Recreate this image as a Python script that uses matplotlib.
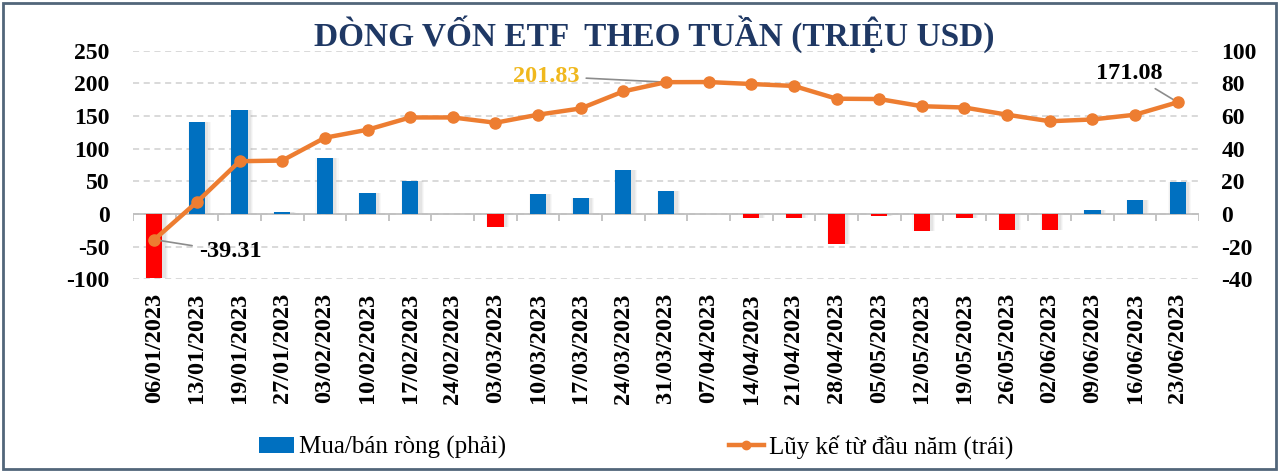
import matplotlib
matplotlib.use("Agg")
import matplotlib.pyplot as plt
import numpy as np
from matplotlib.lines import Line2D
from matplotlib.patches import Patch, Rectangle

plt.rcParams['font.family'] = ['Liberation Serif', 'DejaVu Serif']
plt.rcParams['axes.unicode_minus'] = False

categories = ["06/01/2023", "13/01/2023", "19/01/2023", "27/01/2023", "03/02/2023",
              "10/02/2023", "17/02/2023", "24/02/2023", "03/03/2023", "10/03/2023",
              "17/03/2023", "24/03/2023", "31/03/2023", "07/04/2023", "14/04/2023",
              "21/04/2023", "28/04/2023", "05/05/2023", "12/05/2023", "19/05/2023",
              "26/05/2023", "02/06/2023", "09/06/2023", "16/06/2023", "23/06/2023"]

# Weekly net flow (right axis)
net_flow = [-39.31, 56.3, 63.9, 1.2, 34.0, 12.6, 20.4, 0.1, -8.2, 12.0,
            9.8, 26.9, 14.3, 0.2, -2.7, -2.7, -18.4, -1.0, -10.2, -2.7,
            -9.6, -9.6, 2.2, 8.3, 19.4]

# Cumulative since start of year (left axis)
cumulative = [-39.31, 18.4, 80.8, 81.8, 116.7, 129.0, 147.8, 147.8, 139.7, 152.0,
              161.6, 187.7, 201.83, 202.0, 199.0, 196.0, 176.5, 176.0, 165.0, 163.0,
              152.0, 142.0, 144.7, 152.0, 171.08]

left_ticks = [-100, -50, 0, 50, 100, 150, 200, 250]
right_ticks = [-40, -20, 0, 20, 40, 60, 80, 100]

title = "DÒNG VỐN ETF  THEO TUẦN (TRIỆU USD)"
bar_label = "Mua/bán ròng (phải)"
line_label = "Lũy kế từ đầu năm (trái)"

blue = "#0070C0"
red = "#FF0000"
orange = "#ED7D31"
navy = "#1F3864"

fig = plt.figure(figsize=(12.8, 4.72), dpi=100)
fig.patch.set_facecolor("white")
ax = fig.add_axes([133/1280, 1-279.3/472, (1199-133)/1280, (279.3-50.7)/472])
ax2 = ax.twinx()

x = np.arange(len(categories))
colors = [blue if v >= 0 else red for v in net_flow]

# soft shadow behind bars
for dw, a in [(0.16, 0.05), (0.11, 0.07), (0.06, 0.09)]:
    ax.bar(x + 0.05, net_flow, width=0.38 + dw, color="#7F7F7F", alpha=a,
           zorder=1, linewidth=0)
ax.bar(x, net_flow, width=0.38, color=colors, zorder=2, linewidth=0)

ax.set_ylim(right_ticks[0], right_ticks[-1])
ax.set_yticks(right_ticks)
ax.yaxis.tick_right()
ax.set_xlim(-0.5, len(categories) - 0.5)
ax.grid(axis="y", color="#D0D0D0", linestyle=(0, (4, 3)), linewidth=1.1, zorder=0)
ax.set_axisbelow(True)
ax.axhline(0, color="#BFBFBF", linewidth=1.3, zorder=1.5)
ax.vlines(np.arange(len(categories) + 1) - 0.5, -4.3, 0, color="#BFBFBF",
          linewidth=1.3, zorder=1.5)

ax.set_xticks(x)
ax.set_xticklabels(categories, rotation=90, fontsize=17.5, fontweight="bold")
ax.tick_params(axis="x", length=0, pad=10)
ax.tick_params(axis="y", length=0, pad=16, labelsize=17)
for lbl in ax.get_yticklabels():
    lbl.set_fontweight("bold")

ax2.plot(x, cumulative, color=orange, linewidth=3.2, marker="o", markersize=8,
         markerfacecolor=orange, markeredgecolor=orange, zorder=5)
ax2.set_ylim(left_ticks[0], left_ticks[-1])
ax2.set_yticks(left_ticks)
ax2.yaxis.tick_left()
ax2.tick_params(axis="y", length=0, pad=17, labelsize=17)
for lbl in ax2.get_yticklabels():
    lbl.set_fontweight("bold")

for a in (ax, ax2):
    for s in a.spines.values():
        s.set_visible(False)

# annotations
ax2.annotate(f"{cumulative[0]:.2f}", xy=(x[0], cumulative[0]), xytext=(76, -12),
             textcoords="offset pixels", ha="center", va="center", fontsize=17.5,
             fontweight="bold", color="black",
             arrowprops=dict(arrowstyle="-", color="#8C8C8C", lw=1.2, shrinkA=3, shrinkB=3))
ax2.annotate(f"{cumulative[12]:.2f}", xy=(x[12], cumulative[12]), xytext=(-120, 6),
             textcoords="offset pixels", ha="center", va="center", fontsize=17.5,
             fontweight="bold", color="#F0B81E",
             arrowprops=dict(arrowstyle="-", color="#8C8C8C", lw=1.2, shrinkA=3, shrinkB=3))
ax2.annotate(f"{cumulative[-1]:.2f}", xy=(x[-1], cumulative[-1]), xytext=(-48, 29),
             textcoords="offset pixels", ha="center", va="center", fontsize=17.5,
             fontweight="bold", color="black",
             arrowprops=dict(arrowstyle="-", color="#8C8C8C", lw=1.2, shrinkA=3, shrinkB=3))

fig.text(0.511, 1 - 34/472, title, ha="center", va="center", fontsize=24,
         fontweight="bold", color=navy)

handles = [Patch(facecolor=blue, edgecolor="none"),
           Line2D([0], [0], color=orange, linewidth=3.2, marker="o", markersize=6)]
fig.legend(handles, [bar_label, line_label], loc="center", ncol=2,
           bbox_to_anchor=(0.497, 1 - 447/472), frameon=False, fontsize=18,
           handlelength=1.4, handletextpad=0.2, columnspacing=8.9,
           handleheight=0.6)

fig.add_artist(Rectangle((0.002, 0.006), 0.995, 0.988, transform=fig.transFigure,
                         fill=False, edgecolor="#52667A", linewidth=2.0))

fig.savefig("out.png", dpi=100)
